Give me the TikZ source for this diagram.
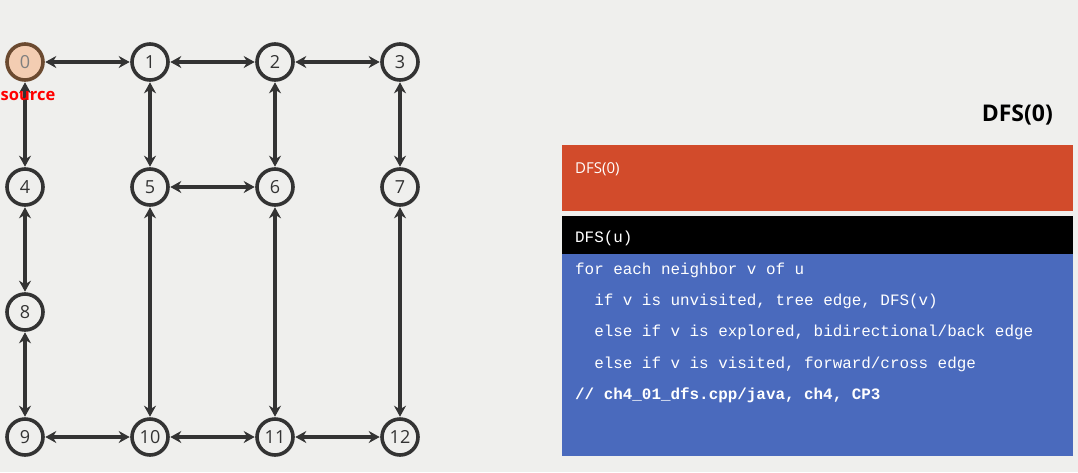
\documentclass[tikz,border=0pt]{standalone}
\usepackage{fontspec}
\setmainfont{Open Sans}
\newfontfamily\codefont{Liberation Mono}
\usetikzlibrary{arrows.meta}
\definecolor{bg}{HTML}{EFEFED}
\definecolor{edgec}{HTML}{333333}
\definecolor{srcfill}{HTML}{F3CDB2}
\definecolor{srcdraw}{HTML}{6B4A30}
\definecolor{orangebox}{HTML}{D24B2B}
\definecolor{bluebox}{HTML}{4A6ABD}
\tikzset{
  vtx/.style={circle,draw=edgec,line width=3.6pt,fill=bg,minimum size=36pt,inner sep=0pt,font=\fontsize{18}{18}\selectfont,text=edgec},
  srcvtx/.style={vtx,draw=srcdraw,fill=srcfill,text=gray},
  link/.style={line width=3.8pt,draw=edgec,{Stealth[length=11pt,width=12pt]}-{Stealth[length=11pt,width=12pt]},shorten <=0.5pt,shorten >=0.5pt},
  codeline/.style={anchor=west,text=white,font=\codefont\fontsize{15.9}{17}\selectfont,inner sep=0pt}
}
\begin{document}
\begin{tikzpicture}[x=1pt,y=-1pt]
\fill[bg] (0,0) rectangle (1078,472);
\useasboundingbox (0,0) rectangle (1078,472);
% vertices
\node[srcvtx] (v0) at (25,62) {0};
\node[vtx] (v1) at (150,62) {1};
\node[vtx] (v2) at (275,62) {2};
\node[vtx] (v3) at (400,62) {3};
\node[vtx] (v4) at (25,187) {4};
\node[vtx] (v5) at (150,187) {5};
\node[vtx] (v6) at (275,187) {6};
\node[vtx] (v7) at (400,187) {7};
\node[vtx] (v8) at (25,312) {8};
\node[vtx] (v9) at (25,437) {9};
\node[vtx] (v10) at (150,437) {10};
\node[vtx] (v11) at (275,437) {11};
\node[vtx] (v12) at (400,437) {12};
% edges
\foreach \a/\b in {v0/v1,v1/v2,v2/v3,v0/v4,v1/v5,v2/v6,v3/v7,v5/v6,v4/v8,v8/v9,v5/v10,v6/v11,v7/v12,v9/v10,v10/v11,v11/v12}
  \draw[link] (\a) -- (\b);
\node[anchor=west,text=red,font=\bfseries\fontsize{16.5}{16.5}\selectfont,inner sep=0pt] (src) at (0.5,96) {source};
% right panel
\node[anchor=east,font=\bfseries\fontsize{23}{23}\selectfont,inner sep=0pt] (title) at (1053,115) {DFS(0)};
\fill[orangebox] (562,145) rectangle (1073,211);
\node[anchor=west,text=white,font=\fontsize{15}{15}\selectfont,inner sep=0pt] (stack) at (575,169) {DFS(0)};
\fill[black] (562,216) rectangle (1073,254);
\fill[bluebox] (562,254) rectangle (1073,456);
\node[codeline] (c0) at (575,238) {DFS(u)};
\node[codeline] (c1) at (575,270) {for each neighbor v of u};
\node[codeline] (c2) at (575,301) {\ \ if v is unvisited, tree edge, DFS(v)};
\node[codeline] (c3) at (575,332) {\ \ else if v is explored, bidirectional/back edge};
\node[codeline] (c4) at (575,364) {\ \ else if v is visited, forward/cross edge};
\node[codeline,font=\codefont\bfseries\fontsize{15.9}{17}\selectfont] (c5) at (575,395) {// ch4\_01\_dfs.cpp/java, ch4, CP3};
\end{tikzpicture}
\end{document}
